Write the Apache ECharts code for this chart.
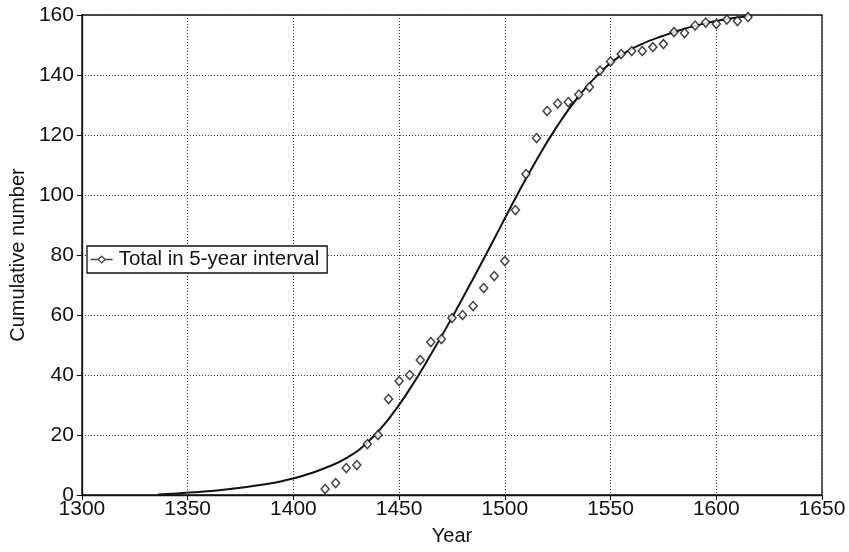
<!DOCTYPE html>
<html>
<head>
<meta charset="utf-8">
<script src="https://cdn.jsdelivr.net/npm/echarts@6/dist/echarts.min.js"></script>
<style>
  html, body { margin: 0; padding: 0; background: #fff; }
  #chart { width: 849px; height: 552px; }
</style>
</head>
<body>
<div id="chart"></div>
<script>
// Cumulative totals, one observation per 5-year interval
const pointYears = [1415, 1420, 1425, 1430, 1435, 1440, 1445, 1450, 1455, 1460,
  1465, 1470, 1475, 1480, 1485, 1490, 1495, 1500, 1505, 1510,
  1515, 1520, 1525, 1530, 1535, 1540, 1545, 1550, 1555, 1560,
  1565, 1570, 1575, 1580, 1585, 1590, 1595, 1600, 1605, 1610, 1615];
const pointTotals = [2, 4, 9, 10, 17, 20, 32, 38, 40, 45,
  51, 52, 59, 60, 63, 69, 73, 78, 95, 107,
  119, 128, 130.5, 131, 133.5, 136, 141.5, 144.5, 147, 148,
  148, 149.3, 150.3, 154.3, 154, 156.5, 157.5, 157, 158.5, 158, 159.3];

// Fitted growth curve
const fitYears = [1336, 1345, 1355, 1365, 1375, 1385, 1395, 1405, 1415, 1425,
  1435, 1445, 1455, 1465, 1475, 1485, 1495, 1505, 1515, 1525,
  1535, 1545, 1555, 1565, 1575, 1585, 1595, 1605, 1615];
const fitValues = [0.2, 0.5, 1.0, 1.6, 2.4, 3.4, 4.7, 6.5, 9.0, 12.3,
  17.5, 25.3, 35.3, 46.8, 59.1, 72.1, 85.4, 98.9, 111.7, 123.2,
  133.0, 140.8, 146.6, 150.4, 153.1, 155.4, 157.3, 158.7, 159.6];

const xTicks = { min: 1300, max: 1650, step: 50 };
const yTicks = { min: 0, max: 160, step: 20 };

const seriesName = 'Total in 5-year interval';
const FONT = 'Liberation Sans, Arial, Helvetica, sans-serif';
const INK = '#111';

const chart = echarts.init(document.getElementById('chart'), null, { renderer: 'canvas' });

const gridLine = { show: true, lineStyle: { color: '#333', width: 1, type: [1, 2] } };

chart.setOption({
  animation: false,
  backgroundColor: '#fff',
  grid: { left: 80, right: 27, top: 15, bottom: 57, show: true, borderColor: INK, borderWidth: 1.3, backgroundColor: 'transparent' },
  legend: {
    data: [{
      name: seriesName,
      icon: 'path://M0,4L7.5,4M7.5,4L11,0.6L14.5,4L11,7.4ZM14.5,4L22,4'
    }],
    left: 87,
    top: 246,
    orient: 'horizontal',
    itemWidth: 22,
    itemHeight: 7,
    itemGap: 2,
    padding: [3, 8, 3, 3],
    backgroundColor: '#fff',
    borderColor: INK,
    borderWidth: 1.3,
    borderRadius: 0,
    itemStyle: { color: 'transparent', borderColor: INK, borderWidth: 1.3 },
    textStyle: { fontFamily: FONT, fontSize: 20.5, color: INK, padding: [0, 0, 0, 1] },
    selectedMode: false
  },
  xAxis: {
    type: 'value',
    min: xTicks.min, max: xTicks.max, interval: xTicks.step,
    name: 'Year',
    nameLocation: 'middle',
    nameGap: 31,
    nameTextStyle: { fontFamily: FONT, fontSize: 20, color: INK },
    axisLine: { show: true, onZero: false, lineStyle: { color: INK, width: 1.3 } },
    axisTick: { show: true, inside: false, length: 5, lineStyle: { color: INK, width: 1 } },
    axisLabel: { fontFamily: FONT, fontSize: 21, color: INK, margin: 4, formatter: v => String(v) },
    splitLine: gridLine
  },
  yAxis: {
    type: 'value',
    min: yTicks.min, max: yTicks.max, interval: yTicks.step,
    name: 'Cumulative number',
    nameLocation: 'middle',
    nameGap: 53,
    nameTextStyle: { fontFamily: FONT, fontSize: 20, color: INK },
    axisLine: { show: true, lineStyle: { color: INK, width: 1.3 } },
    axisTick: { show: true, inside: false, length: 5, lineStyle: { color: INK, width: 1 } },
    axisLabel: { fontFamily: FONT, fontSize: 21, color: INK, margin: 8 },
    splitLine: gridLine
  },
  series: [
    {
      name: 'fit',
      type: 'line',
      data: fitYears.map((y, i) => [y, fitValues[i]]),
      smooth: 0.5,
      showSymbol: false,
      lineStyle: { color: INK, width: 2 },
      z: 2
    },
    {
      name: seriesName,
      type: 'scatter',
      data: pointYears.map((y, i) => [y, pointTotals[i]]),
      symbol: 'diamond',
      symbolSize: [8, 9],
      itemStyle: { color: '#fff', borderColor: INK, borderWidth: 1.5 },
      z: 3
    }
  ]
});
</script>
</body>
</html>
